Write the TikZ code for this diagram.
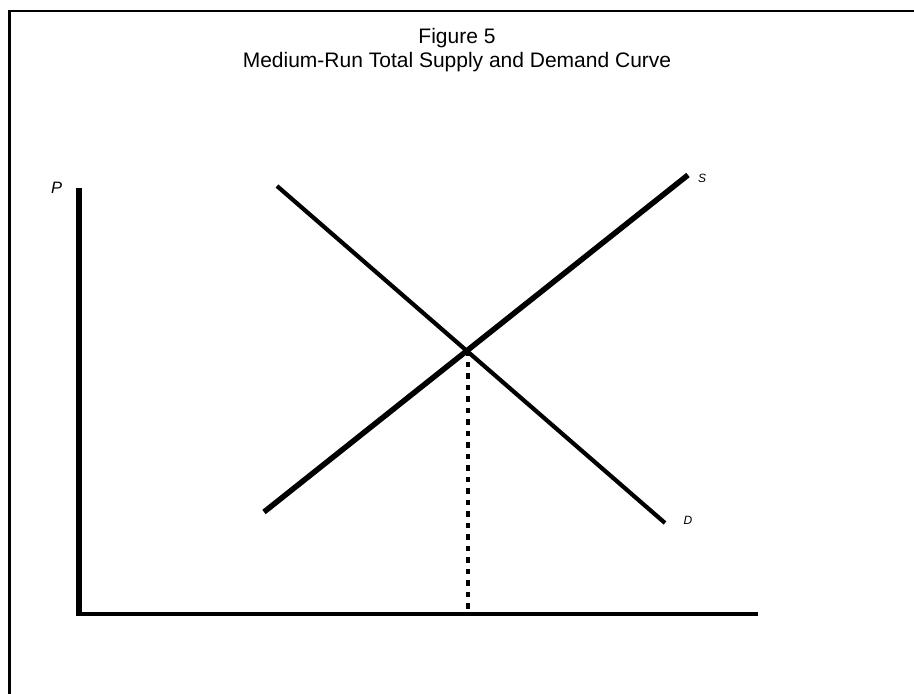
\documentclass[tikz,border=0pt]{standalone}
\usepackage{fontspec}
\setmainfont{Liberation Sans}
\begin{document}
\begin{tikzpicture}[x=1pt,y=-1pt,
  axis/.style={line width=5pt},
  supply/.style={line width=5.5pt},
  demand/.style={line width=4.2pt},
  frame/.style={line width=2.6pt},
  guide/.style={line width=3.6pt, dash pattern=on 5.5pt off 6pt},
  lbl/.style={inner sep=0pt, font=\itshape\fontsize{12}{13}\selectfont},
  ttl/.style={inner sep=0pt, align=center, font=\fontsize{21}{23.5}\selectfont}]
\useasboundingbox (0,0) rectangle (914,694);
% frame (only top and left edges visible)
\coordinate (fTL) at (9.3,11);
\coordinate (fTR) at (920,11);
\coordinate (fBL) at (9.3,700);
\draw[frame] (fBL) -- (fTL) -- (fTR);
% title
\node[ttl] (title) at (457,50) {Figure 5\\Medium-Run Total Supply and Demand Curve};
% axes
\coordinate (ytop) at (79,188);
\coordinate (origin) at (79,613.5);
\coordinate (xend) at (758,613.5);
\draw[axis, line width=6pt] (ytop) -- (origin);
\draw[line width=4pt] (76,613.5) -- (xend);
\node[lbl, font=\itshape\fontsize{16.5}{18}\selectfont] (P) at (56.7,188) {P};
% supply and demand
\coordinate (s0) at (264,512);
\coordinate (s1) at (688,175);
\coordinate (d0) at (277,186);
\coordinate (d1) at (665,523);
\draw[supply] (s0) -- (s1);
\draw[demand] (d0) -- (d1);
\node[lbl] (S) at (702,178) {S};
\node[lbl] (D) at (688,520) {D};
% equilibrium guide
\coordinate (eq) at (468,350);
\coordinate (q) at (468,612);
\draw[guide] (eq) -- (q);
\end{tikzpicture}
\end{document}
